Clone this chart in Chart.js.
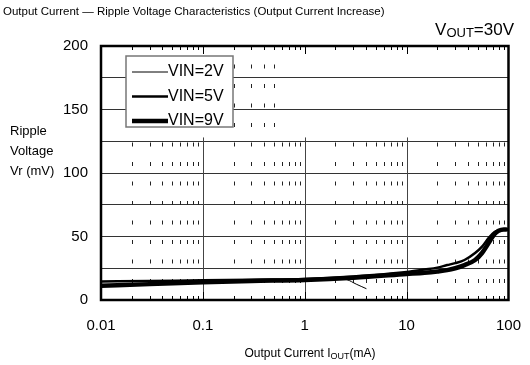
<!DOCTYPE html>
<html>
<head>
<meta charset="utf-8">
<script src="https://cdn.jsdelivr.net/npm/chart.js@4.4.1/dist/chart.umd.min.js"></script>
<style>
  html, body { margin: 0; padding: 0; background: #fff; }
  #wrap { width: 530px; height: 365px; }
</style>
</head>
<body>
<div id="wrap"><canvas id="c" width="530" height="365"></canvas></div>
<script>
const FONT = '"Liberation Sans", Arial, Helvetica, sans-serif';

// Output current (mA) against ripple voltage (mV), one pair of arrays per input voltage
const vin2Current = [0.01, 0.03, 0.1, 0.3, 1, 2, 2.6, 3.2, 4];
const vin2Ripple  = [14.5, 15, 15.5, 16, 16.5, 17, 16, 12.5, 9];

const vin5Current = [0.01, 0.03, 0.1, 0.3, 1, 3, 10, 15, 20, 25, 30, 37, 47, 55, 64, 73, 80, 90, 95];
const vin5Ripple  = [14.5, 15, 15.5, 16, 16.5, 18.5, 22, 24, 25.5, 27.5, 29, 31.5, 37, 42, 49, 53.5, 55, 55.5, 55.5];

const vin9Current = [0.01, 0.03, 0.1, 0.3, 1, 3, 10, 15, 20, 25, 30, 37, 47, 55, 64, 73, 80, 90, 95];
const vin9Ripple  = [11.3, 12.5, 14, 15, 15.8, 17.5, 20.5, 21.5, 22.5, 23.5, 25, 27.5, 31.5, 37, 45, 52, 54.5, 55.5, 55.5];

const seriesLabels = ['VIN=2V', 'VIN=5V', 'VIN=9V'];

// Axis ranges and labelled ticks
const xDecades = [0.01, 0.1, 1, 10, 100];
const yLabelled = [0, 50, 100, 150, 200];

const toPoints = (xs, ys) => xs.map((x, i) => ({ x: x, y: ys[i] }));

// Vertical grid stops at this ripple value; a few minor lines of the 0.1 decade run to the top
const GRID_TOP_VALUE = 128;
const FULL_HEIGHT_MINOR = [0.2, 0.3, 0.4, 0.5];

const gridPlugin = {
  id: 'logGrid',
  beforeDatasetsDraw(chart) {
    const { ctx, chartArea: a, scales: { x, y } } = chart;
    const yLow = y.getPixelForValue(0);
    const yHigh = y.getPixelForValue(GRID_TOP_VALUE);
    ctx.save();
    // minor lines (2..9 of each decade), short dashes
    ctx.strokeStyle = '#222';
    ctx.lineWidth = 1;
    ctx.setLineDash([4, 15.5]);
    ctx.lineDashOffset = 2.5;
    for (let d = 0; d < xDecades.length - 1; d++) {
      for (let m = 2; m <= 9; m++) {
        const v = +(xDecades[d] * m).toPrecision(3);
        const px = Math.round(x.getPixelForValue(v)) + 0.5;
        const top = FULL_HEIGHT_MINOR.includes(v) ? a.top : yHigh;
        ctx.beginPath();
        ctx.moveTo(px, yLow);
        ctx.lineTo(px, top);
        ctx.stroke();
      }
    }
    ctx.setLineDash([]);
    // decade lines
    ctx.strokeStyle = '#444';
    for (let d = 1; d < xDecades.length - 1; d++) {
      const px = Math.round(x.getPixelForValue(xDecades[d])) + 0.5;
      ctx.beginPath();
      ctx.moveTo(px, yLow);
      ctx.lineTo(px, yHigh);
      ctx.stroke();
    }
    ctx.restore();
  }
};

function drawSubscripted(ctx, parts, x, y, align, bigSize, smallSize) {
  // parts: [text, isSub]
  const big = bigSize + 'px ' + FONT, small = smallSize + 'px ' + FONT;
  let total = 0;
  parts.forEach(p => { ctx.font = p[1] ? small : big; total += ctx.measureText(p[0]).width; });
  let cx = align === 'right' ? x - total : align === 'center' ? x - total / 2 : x;
  parts.forEach(p => {
    ctx.font = p[1] ? small : big;
    ctx.fillText(p[0], cx, p[1] ? y + bigSize * 0.22 : y);
    cx += ctx.measureText(p[0]).width;
  });
}

const framePlugin = {
  id: 'frameAndText',
  afterDatasetsDraw(chart) {
    const { ctx, chartArea: a, scales: { x } } = chart;
    ctx.save();
    // tick marks along top and bottom edges
    ctx.strokeStyle = '#000';
    ctx.lineWidth = 1;
    for (let d = 0; d < xDecades.length - 1; d++) {
      for (let m = 1; m <= 9; m++) {
        const px = Math.round(x.getPixelForValue(xDecades[d] * m)) + 0.5;
        const len = m === 1 ? 8 : 4;
        ctx.beginPath();
        ctx.moveTo(px, a.top); ctx.lineTo(px, a.top + len);
        ctx.moveTo(px, a.bottom); ctx.lineTo(px, a.bottom - len);
        ctx.stroke();
      }
    }
    // plot frame
    ctx.lineWidth = 2.5;
    ctx.strokeRect(a.left, a.top, a.right - a.left, a.bottom - a.top);

    // legend box inside the plot
    const lx = 126, ly = 56, lw = 107, lh = 71;
    ctx.fillStyle = '#fff';
    ctx.fillRect(lx, ly, lw, lh);
    ctx.strokeStyle = '#777';
    ctx.lineWidth = 1.5;
    ctx.strokeRect(lx, ly, lw, lh);
    ctx.fillStyle = '#000';
    ctx.strokeStyle = '#000';
    ctx.font = '16px ' + FONT;
    ctx.textBaseline = 'middle';
    ctx.textAlign = 'left';
    chart.data.datasets.forEach((ds, i) => {
      const cy = ly + 16 + i * 24.5;
      ctx.lineWidth = ds.borderWidth;
      ctx.beginPath();
      ctx.moveTo(lx + 6, cy); ctx.lineTo(lx + 42, cy);
      ctx.stroke();
      ctx.fillText(ds.label, lx + 42, cy);
    });

    // headings and axis titles
    ctx.font = '11.5px ' + FONT;
    ctx.textBaseline = 'middle';
    ctx.fillText('Output Current \u2014 Ripple Voltage Characteristics (Output Current Increase)', 3, 12);
    ctx.font = '13px ' + FONT;
    ctx.fillText('Ripple', 10, 131);
    ctx.fillText('Voltage', 10, 151);
    ctx.fillText('Vr (mV)', 10, 171);

    drawSubscripted(ctx, [['V', false], ['OUT', true], ['=30V', false]], 514, 30, 'right', 17, 13);
    drawSubscripted(ctx, [['Output Current I', false], ['OUT', true], ['(mA)', false]], 310, 354, 'center', 12, 9);
    ctx.restore();
  }
};

new Chart(document.getElementById('c'), {
  type: 'line',
  data: {
    datasets: [
      { label: seriesLabels[0], data: toPoints(vin2Current, vin2Ripple), borderWidth: 1 },
      { label: seriesLabels[1], data: toPoints(vin5Current, vin5Ripple), borderWidth: 2.5 },
      { label: seriesLabels[2], data: toPoints(vin9Current, vin9Ripple), borderWidth: 4.5 }
    ].map(ds => Object.assign(ds, {
      borderColor: '#000', backgroundColor: '#000', pointRadius: 0, fill: false,
      cubicInterpolationMode: 'monotone', borderCapStyle: 'round', borderJoinStyle: 'round'
    }))
  },
  options: {
    responsive: false,
    animation: false,
    layout: { autoPadding: false, padding: { left: 0, right: 16, top: 46, bottom: 0 } },
    plugins: { legend: { display: false }, tooltip: { enabled: false }, title: { display: false } },
    scales: {
      x: {
        type: 'logarithmic',
        min: 0.01, max: 100,
        afterFit(s) { s.height = 65; },
        grid: { display: false },
        border: { display: false },
        ticks: {
          autoSkip: false, maxRotation: 0, padding: 9, color: '#000',
          font: { family: FONT, size: 15 },
          callback(v) { return xDecades.includes(v) ? String(v) : ''; }
        }
      },
      y: {
        min: 0, max: 200,
        afterFit(s) { s.width = 101; },
        grid: { color: '#333', lineWidth: 1, drawTicks: false },
        border: { display: false },
        ticks: {
          stepSize: 25, padding: 13, color: '#000',
          font: { family: FONT, size: 15 },
          callback(v) { return yLabelled.includes(v) ? String(v) : ''; }
        }
      }
    }
  },
  plugins: [gridPlugin, framePlugin]
});
</script>
</body>
</html>
